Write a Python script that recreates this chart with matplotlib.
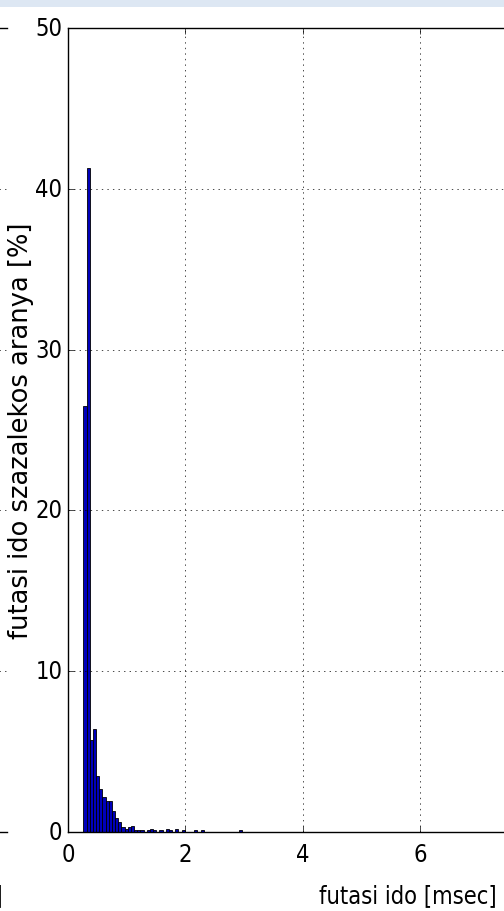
import os
import matplotlib
matplotlib.use('Agg')
import matplotlib.pyplot as plt
from matplotlib import font_manager as fm
from matplotlib.patches import Rectangle
import numpy as np

# ---- data (percent of run times per histogram bin) ----
bin_start = 0.262      # msec, left edge of first bin
bin_width = 0.054      # msec
pct = [26.5, 41.3, 5.7, 6.4, 3.5, 2.7, 2.2, 1.9, 1.9, 1.3,
       0.9, 0.6, 0.3, 0.2, 0.3, 0.4, 0.1, 0.1, 0.1, 0.0,
       0.1, 0.2, 0.1, 0.0, 0.1, 0.0, 0.2, 0.1, 0.0, 0.2,
       0.0, 0.1, 0.0, 0.0, 0.0, 0.1, 0.0, 0.1, 0.0, 0.0,
       0.0, 0.0, 0.0, 0.0, 0.0, 0.0, 0.0, 0.0, 0.0, 0.1]
xticks = [0, 2, 4, 6]
yticks = [0, 10, 20, 30, 40, 50]
xlabel = 'futasi ido [msec]'
ylabel = 'futasi ido szazalekos aranya [%]'

plt.style.use('classic')

# look for a narrow / condensed sans font for the (horizontally squeezed) texts
def find_narrow():
    files = {os.path.basename(f.fname).lower(): f.fname for f in fm.fontManager.ttflist}
    prefs = ['liberationsansnarrow-regular.ttf', 'notosans-condensed.ttf',
             'notosans-condensedregular.ttf', 'notosanscondensed-regular.ttf',
             'dejavusanscondensed.ttf', 'notosans-semicondensed.ttf',
             'notosans-semicondensedregular.ttf', 'robotocondensed-regular.ttf',
             'opensans-condensedregular.ttf']
    for p in prefs:
        if p in files:
            return files[p]
    for b, path in files.items():
        if ('narrow' in b or 'condensed' in b) and 'bold' not in b and 'italic' not in b \
                and 'light' not in b and 'thin' not in b and 'black' not in b \
                and 'medium' not in b and 'extra' not in b and 'mono' not in b \
                and 'serif' not in b and b.endswith(('.ttf', '.otf')):
            return path
    return None

npath = find_narrow()
if npath:
    nfont = fm.FontProperties(fname=npath, size=17)
else:
    nfont = fm.FontProperties(family='DejaVu Sans', size=15)

W, H = 504, 912
fig = plt.figure(figsize=(W / 100, H / 100), dpi=100)
fig.patch.set_facecolor('white')

# top light-blue band
fig.add_artist(Rectangle((0, 1 - 8 / H), 1, 8 / H, transform=fig.transFigure,
                         facecolor='#dde7f3', edgecolor='none'))

# partial neighbouring subplot at the left edge
axl = fig.add_axes([7 / W - 0.9, 79 / H, 0.9, 804 / H])
axl.set_xlim(0, 12)
axl.set_ylim(0, 50)
axl.set_xticks([0, 2, 4, 6, 8, 10])
axl.set_yticks(yticks)
axl.grid(True)
axl.spines['right'].set_visible(False)
axl.tick_params(right=False, labelleft=False, labelbottom=False)
axl.set_xlabel(xlabel, fontproperties=nfont, ha='right')
axl.xaxis.set_label_coords(2.7 / W, (H - 884) / H, transform=fig.transFigure)

# main subplot
ax = fig.add_axes([68 / W, 79 / H, 704 / W, 804 / H])
edges = bin_start + bin_width * np.arange(len(pct) + 1)
ax.hist(edges[:-1], bins=edges, weights=pct, color='#0000bb',
        edgecolor='black', linewidth=0.6)
ax.set_xlim(0, 12)
ax.set_ylim(0, 50)
ax.set_xticks(xticks)
ax.set_yticks(yticks)
ax.grid(True)
ax.tick_params(axis='x', pad=7)
ax.tick_params(axis='y', pad=4)
for lab in ax.get_xticklabels() + ax.get_yticklabels():
    lab.set_fontproperties(nfont)
ax.set_xlabel(xlabel, fontproperties=nfont, ha='right')
ax.xaxis.set_label_coords(497 / W, (H - 884) / H, transform=fig.transFigure)
ax.set_ylabel(ylabel, fontsize=18.5, family='DejaVu Sans')
ax.yaxis.set_label_coords(34 / W, 0.5 * (79 + 883) / H, transform=fig.transFigure)

fig.savefig('out.png', dpi=100)
